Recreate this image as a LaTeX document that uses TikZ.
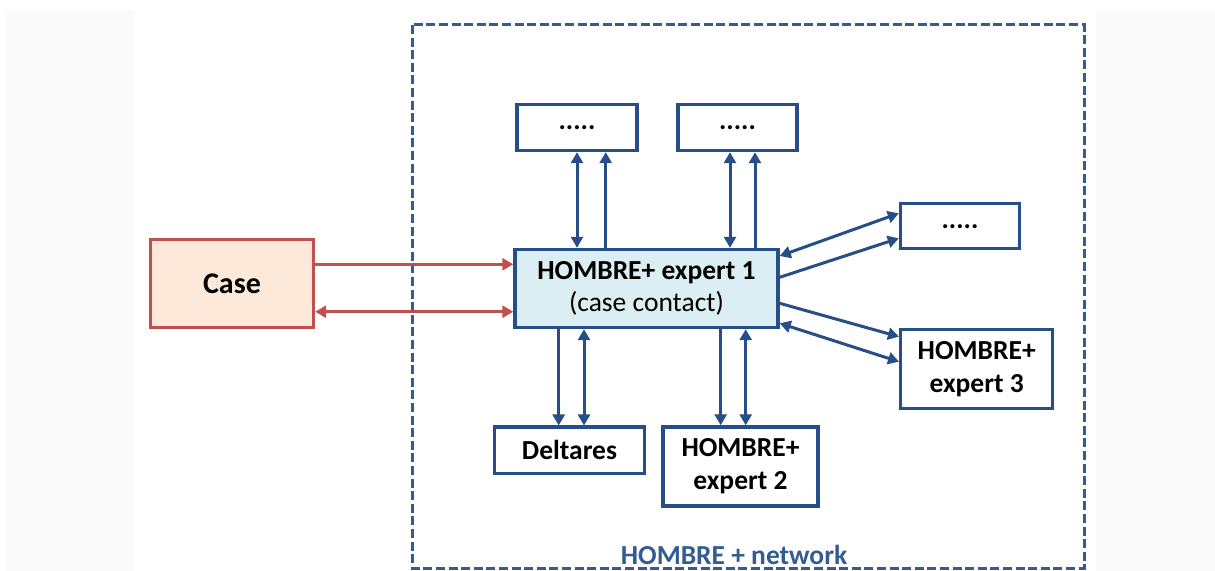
\documentclass[tikz,border=0pt]{standalone}
\usepackage{fontspec}
\setmainfont{Carlito}
\usepackage{tikz}
\usetikzlibrary{
	arrows.meta
}

\definecolor{netblue}{RGB}{38,78,136}
\definecolor{frameblue}{RGB}{52,92,146}
\definecolor{caseline}{RGB}{192,80,77}
\definecolor{casefill}{RGB}{253,233,217}
\definecolor{mainfill}{RGB}{219,238,244}
\definecolor{panelgray}{RGB}{250,250,250}

\tikzset{
	box/.style={draw=netblue,line width=1.7pt,fill=white,inner sep=0pt,align=center,
		font=\fontsize{13.75pt}{16.5pt}\selectfont\bfseries},
	casebox/.style={box,draw=caseline,fill=casefill,font=\fontsize{15pt}{16.5pt}\selectfont\bfseries},
	mainbox/.style={box,fill=mainfill,font=\fontsize{13.75pt}{16pt}\selectfont},
	link/.style={draw=netblue,line width=1.5pt,-{Triangle[length=5.5pt,width=6pt]}},
	dlink/.style={link,{Triangle[length=5.5pt,width=6pt]}-{Triangle[length=5.5pt,width=6pt]}},
	caselink/.style={link,draw=caseline,fill=caseline},
	dcaselink/.style={dlink,draw=caseline,fill=caseline},
	frame/.style={draw=frameblue,line width=1.5pt,dash pattern=on 4.5pt off 1.8pt}
}

\begin{document}
\begin{tikzpicture}[x=0.5pt,y=-0.5pt]
	\useasboundingbox (0,0) rectangle (1215,571);
	\fill[panelgray] (6,10) rectangle (134,571);
	\fill[panelgray] (1096,9) rectangle (1215,571);

	% network frame
	\draw[frame] (412,25) rectangle (1084,568);
	\node[anchor=base,text=frameblue,font=\fontsize{13.75pt}{15pt}\selectfont\bfseries]
		(netlabel) at (734,564) {HOMBRE + network};

	\draw
		node [casebox,minimum width=81.5pt,minimum height=44pt] (case) at (232,283.7) {Case}
		node [mainbox,minimum width=131.5pt,minimum height=39pt] (exp1) at (646.5,288.5)
			{\textbf{HOMBRE+ expert 1}\\(case contact)}
		node [box,minimum width=60pt,minimum height=23pt]   (dotsA)    at (577,127.5)   {.....}
		node [box,minimum width=59.5pt,minimum height=23pt] (dotsB)    at (737.5,127.5) {.....}
		node [box,minimum width=59.5pt,minimum height=22.5pt] (dotsC)  at (960,226.2)   {.....}
		node [box,minimum width=76pt,minimum height=39.5pt] (exp3)     at (976.7,369.2) {HOMBRE+\\expert 3}
		node [box,minimum width=75pt,minimum height=23pt]   (deltares) at (569.5,450.2) {Deltares}
		node [box,minimum width=77.5pt,minimum height=39.5pt] (exp2)   at (740.5,466.5) {HOMBRE+\\expert 2}
	;

	% case contact
	\draw[caselink]  ([yshift=12.1pt]exp1.west -| case.east) -- ([yshift=12.1pt]exp1.west);
	\draw[dcaselink] ([yshift=-11.6pt]exp1.west -| case.east) -- ([yshift=-11.6pt]exp1.west);

	% upwards
	\draw[dlink] (dotsA.south |- exp1.north) -- (dotsA.south);
	\draw[link]  ([xshift=14.35pt]dotsA.south |- exp1.north) -- ([xshift=14.35pt]dotsA.south);
	\draw[dlink] ([xshift=-3.75pt]dotsB.south |- exp1.north) -- ([xshift=-3.75pt]dotsB.south);
	\draw[link]  ([xshift=8.75pt]dotsB.south |- exp1.north) -- ([xshift=8.75pt]dotsB.south);

	% sideways
	\draw[dlink] ([yshift=16.25pt]exp1.east) -- ([yshift=6.45pt]dotsC.west);
	\draw[link]  ([yshift=5.6pt]exp1.east) -- ([yshift=-6.05pt]dotsC.west);
	\draw[link]  ([yshift=-7.4pt]exp1.east) -- ([yshift=16.25pt]exp3.west);
	\draw[dlink] ([yshift=-17.4pt]exp1.east) -- ([yshift=3.75pt]exp3.west);

	% downwards
	\draw[link]  ([xshift=-5.4pt]deltares.north |- exp1.south) -- ([xshift=-5.4pt]deltares.north);
	\draw[dlink] ([xshift=7.25pt]deltares.north |- exp1.south) -- ([xshift=7.25pt]deltares.north);
	\draw[link]  ([xshift=-9.9pt]exp2.north |- exp1.south) -- ([xshift=-9.9pt]exp2.north);
	\draw[dlink] ([xshift=2.6pt]exp2.north |- exp1.south) -- ([xshift=2.6pt]exp2.north);
\end{tikzpicture}
\end{document}
